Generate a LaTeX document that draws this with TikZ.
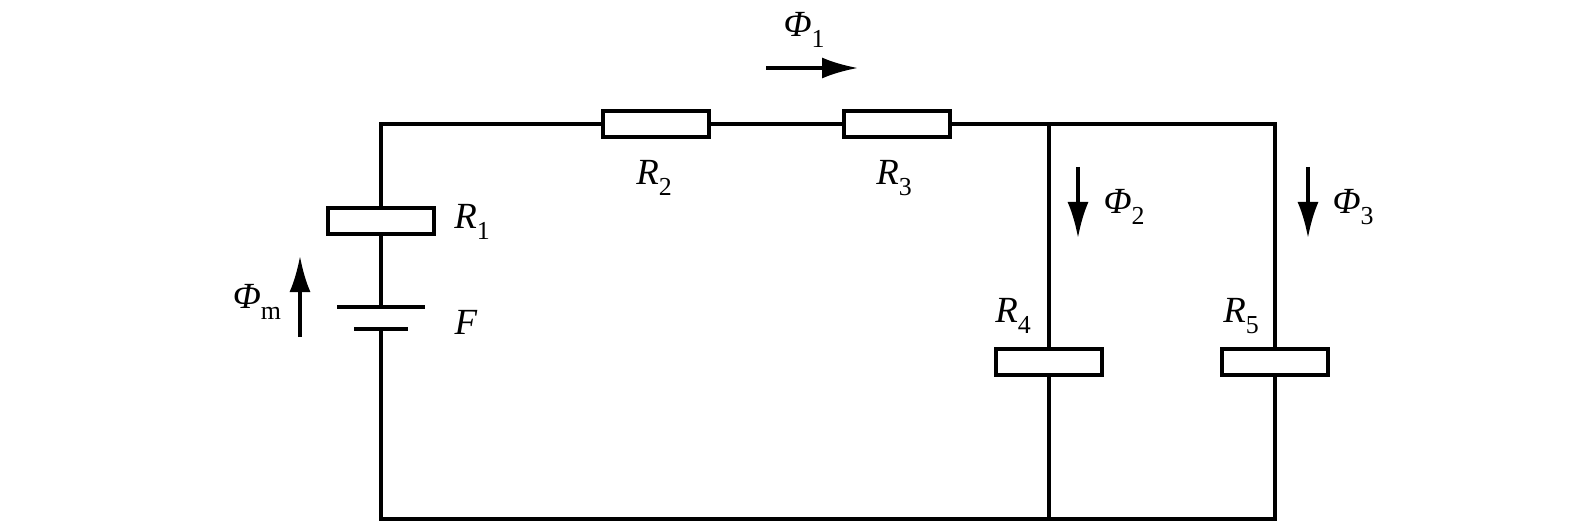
\documentclass[tikz,border=0pt]{standalone}
\usepackage{fontspec}
\setmainfont{Liberation Serif}
\usetikzlibrary{arrows.meta}
\newcommand\idx[1]{\raisebox{-0.3em}{\fontsize{26}{26}\selectfont\upshape #1}}
\tikzset{
  wire/.style={line width=3.6bp, line join=miter, line cap=rect},
  resist/.style={draw, line width=3.6bp, fill=white, rectangle, inner sep=0pt,
    minimum width=106bp, minimum height=26bp},
  flow/.style={line width=3.6bp, -{Latex[length=36bp,width=21bp]}},
  lbl/.style={font=\fontsize{37}{42}\selectfont, inner sep=0pt}
}
\begin{document}
\begin{tikzpicture}[x=1bp,y=-1bp]
\useasboundingbox (0,0) rectangle (1575,524);
% coordinates
\coordinate (TL) at (381,124);
\coordinate (TR) at (1275,124);
\coordinate (J1) at (1049,124);
\coordinate (BL) at (381,519);
\coordinate (BR) at (1275,519);
\coordinate (J2) at (1049,519);
\coordinate (P1) at (381,307);
\coordinate (P2) at (381,329);
% resistors
\node[resist] (R1) at (381,221) {};
\node[resist] (R2) at (656,124) {};
\node[resist] (R3) at (897,124) {};
\node[resist] (R4) at (1049,362) {};
\node[resist] (R5) at (1275,362) {};
% wires
\draw[wire] (R1.north) -- (TL) -- (R2.west);
\draw[wire] (R2.east) -- (R3.west);
\draw[wire] (R3.east) -- (TR) -- (R5.north);
\draw[wire] (R5.south) -- (BR) -- (BL) -- (P2);
\draw[wire] (R1.south) -- (P1);
\draw[wire] (J1) -- (R4.north);
\draw[wire] (R4.south) -- (J2);
% battery plates
\draw[wire, line cap=butt] ([xshift=-44bp]P1) -- ([xshift=44bp]P1);
\draw[wire, line cap=butt] ([xshift=-27bp]P2) -- ([xshift=27bp]P2);
% flow arrows
\coordinate (A1s) at (766,68);  \coordinate (A1e) at (858,68);
\coordinate (Ams) at (300,337); \coordinate (Ame) at (300,256);
\coordinate (A2s) at (1078,167); \coordinate (A2e) at (1078,238);
\coordinate (A3s) at (1308,167); \coordinate (A3e) at (1308,238);
\draw[flow] (A1s) -- (A1e);
\draw[flow] (Ams) -- (Ame);
\draw[flow] (A2s) -- (A2e);
\draw[flow] (A3s) -- (A3e);
% labels
\node[lbl] (LR1) at (472,222) {\itshape R\idx{1}};
\node[lbl] (LF) at (466,322) {\itshape F};
\node[lbl] (LPm) at (257,302) {\itshape Φ\idx{m}};
\node[lbl] (LR2) at (654,178) {\itshape R\idx{2}};
\node[lbl] (LR3) at (894,178) {\itshape R\idx{3}};
\node[lbl] (LP1) at (804,30) {\itshape Φ\idx{1}};
\node[lbl] (LR4) at (1013,316) {\itshape R\idx{4}};
\node[lbl] (LR5) at (1241,316) {\itshape R\idx{5}};
\node[lbl] (LP2) at (1124,207) {\itshape Φ\idx{2}};
\node[lbl] (LP3) at (1353,207) {\itshape Φ\idx{3}};
\end{tikzpicture}
\end{document}
